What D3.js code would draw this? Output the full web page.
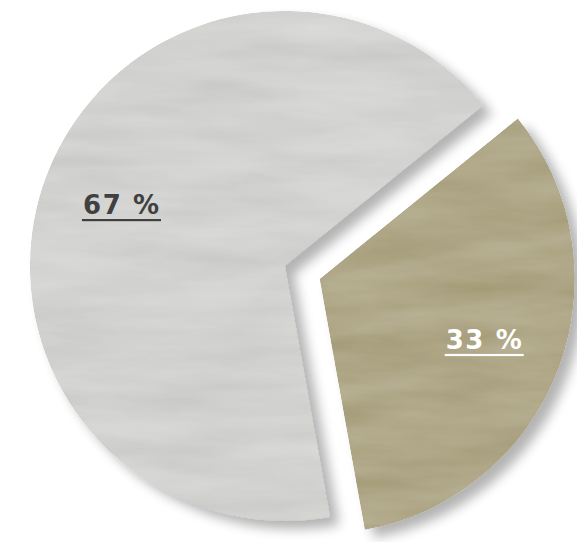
<!DOCTYPE html>
<html>
<head>
<meta charset="utf-8">
<script src="https://cdn.jsdelivr.net/npm/d3@7"></script>
<style>
html,body{margin:0;padding:0;background:#fff;}
svg{display:block;}
</style>
</head>
<body>
<svg id="chart" width="577" height="542"></svg>
<script>
// ---- data ----
const categories = ["A", "B"];
const values = [33, 67];
const labels = ["33 %", "67 %"];
const fills = ["#aea686", "#d2d2d0"];
const labelColors = ["#ffffff", "#404040"];
const explode = [37, 0];

const W = 577, H = 542;
const cx = 285, cy = 266, R = 255;
const svg = d3.select("#chart");
const defs = svg.append("defs");

function texFilter(id, seed, freq, amt) {
  const f = defs.append("filter").attr("id", id)
    .attr("x", "-10%").attr("y", "-10%").attr("width", "125%").attr("height", "125%");
  f.append("feTurbulence").attr("type", "fractalNoise")
    .attr("baseFrequency", freq).attr("numOctaves", 4).attr("seed", seed).attr("result", "noise");
  f.append("feColorMatrix").attr("in", "noise").attr("type", "matrix")
    .attr("values", "1 0 0 0 0  1 0 0 0 0  1 0 0 0 0  0 0 0 0 1").attr("result", "gray");
  f.append("feComposite").attr("in", "SourceGraphic").attr("in2", "gray")
    .attr("operator", "arithmetic").attr("k1", 0).attr("k2", 1).attr("k3", amt).attr("k4", -amt / 2)
    .attr("result", "tex");
  f.append("feComposite").attr("in", "tex").attr("in2", "SourceGraphic").attr("operator", "in").attr("result", "clip");
  f.append("feGaussianBlur").attr("in", "SourceAlpha").attr("stdDeviation", 6).attr("result", "blur");
  f.append("feOffset").attr("in", "blur").attr("dx", 9).attr("dy", 8).attr("result", "off");
  f.append("feComponentTransfer").attr("in", "off").attr("result", "shadow")
    .append("feFuncA").attr("type", "linear").attr("slope", 0.3);
  const m = f.append("feMerge");
  m.append("feMergeNode").attr("in", "shadow");
  m.append("feMergeNode").attr("in", "clip");
}
texFilter("texB", 7, "0.007 0.04", 0.16);
texFilter("texA", 11, "0.008 0.04", 0.15);

const pie = d3.pie().sort(null).value(d => d)
  .startAngle(51 * Math.PI / 180).endAngle(51 * Math.PI / 180 + 2 * Math.PI);
const arcs = pie(values);
const arc = d3.arc().innerRadius(0).outerRadius(R);
const labelArc = d3.arc().innerRadius(175).outerRadius(175);

const g = svg.append("g").attr("transform", `translate(${cx},${cy})`);

const order = [1, 0];
order.forEach(i => {
  const a = arcs[i];
  const mid = (a.startAngle + a.endAngle) / 2;
  const ox = Math.sin(mid) * explode[i], oy = -Math.cos(mid) * explode[i];
  const sg = g.append("g").attr("transform", `translate(${ox},${oy})`);
  sg.append("path").attr("d", arc(a)).attr("fill", fills[i])
    .attr("filter", i === 0 ? "url(#texA)" : "url(#texB)");
});

order.forEach(i => {
  const a = arcs[i];
  const mid = (a.startAngle + a.endAngle) / 2;
  const ox = Math.sin(mid) * explode[i], oy = -Math.cos(mid) * explode[i];
  const [lx, ly] = labelArc.centroid(a);
  g.append("text")
    .attr("x", lx + ox).attr("y", ly + oy + 9)
    .attr("text-anchor", "middle")
    .attr("font-family", "DejaVu Sans, Verdana, sans-serif")
    .attr("font-weight", "bold").attr("font-size", 26)
    .attr("textLength", 76).attr("lengthAdjust", "spacing")
    .attr("fill", labelColors[i]).text(labels[i]);
  g.append("rect").attr("x", lx + ox - 39).attr("y", ly + oy + 14)
    .attr("width", 79).attr("height", 2.2).attr("fill", labelColors[i]);
});
</script>
</body>
</html>
